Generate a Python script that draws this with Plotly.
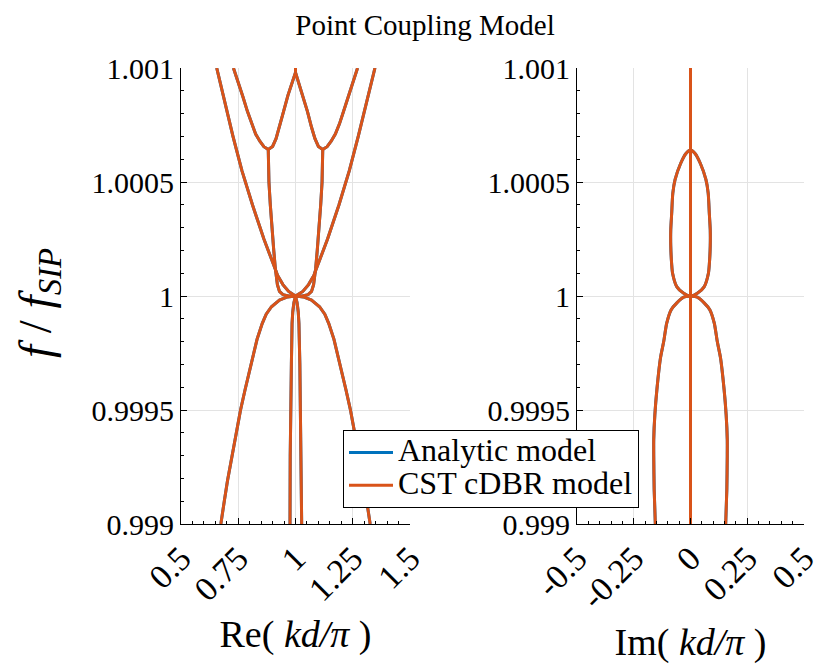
import plotly.graph_objects as go

# ---------------- data ----------------
# Re(kd/pi) branches, each as (x list, y list) with y = f/f_SIP
re_outer_left_x = [0.656, 0.690, 0.727, 0.766, 0.812, 0.862, 0.898, 0.922, 0.945, 0.970, 1.0]
re_outer_left_y = [1.001, 1.00085, 1.0007, 1.00055, 1.0004, 1.00025, 1.00015, 1.00009, 1.00005, 1.00002, 1.0]
re_outer_right_x = [1.347, 1.312, 1.274, 1.235, 1.190, 1.140, 1.102, 1.080, 1.057, 1.032, 1.0]
re_outer_right_y = [1.001, 1.00085, 1.0007, 1.00055, 1.0004, 1.00025, 1.00015, 1.00009, 1.00005, 1.00002, 1.0]

re_arc_left_x = [0.729, 0.750, 0.770, 0.790, 0.808, 0.826, 0.845, 0.862, 0.881, 0.900, 0.915, 0.930, 0.948, 0.967, 0.984, 1.0]
re_arc_left_y = [1.001, 1.00094, 1.000875, 1.00081, 1.000755, 1.00071, 1.000678, 1.000655, 1.000643,
                 1.000656, 1.00069, 1.00074, 1.00081, 1.00088, 1.00093, 1.00098]
re_arc_right_x = [1.0, 1.016, 1.033, 1.052, 1.070, 1.085, 1.100, 1.119, 1.138, 1.155, 1.174, 1.192, 1.210, 1.230, 1.250, 1.271]
re_arc_right_y = [1.00098, 1.00093, 1.00088, 1.00081, 1.00074, 1.00069, 1.000656, 1.000643, 1.000655,
                  1.000678, 1.00071, 1.000755, 1.00081, 1.000875, 1.00094, 1.001]
re_center_x = [1.0, 1.0]
re_center_y = [1.00098, 1.001]

re_inner_left_x = [0.881, 0.882, 0.884, 0.890, 0.896, 0.905, 0.912, 0.916, 0.921, 0.930, 0.945, 0.970, 1.0]
re_inner_left_y = [1.000643, 1.0006, 1.0005, 1.0004, 1.00031, 1.0002, 1.00012, 1.00008, 1.00005, 1.00002,
                   1.000006, 1.0000005, 1.0]
re_inner_right_x = [1.119, 1.118, 1.116, 1.110, 1.104, 1.095, 1.088, 1.084, 1.079, 1.070, 1.055, 1.030, 1.0]
re_inner_right_y = [1.000643, 1.0006, 1.0005, 1.0004, 1.00031, 1.0002, 1.00012, 1.00008, 1.00005, 1.00002,
                    1.000006, 1.0000005, 1.0]

re_dome_left_x = [1.0, 0.965, 0.930, 0.895, 0.872, 0.855, 0.832, 0.812, 0.795, 0.780, 0.760, 0.745, 0.730,
                  0.716, 0.703, 0.689, 0.674]
re_dome_right_x = [1.0, 1.035, 1.070, 1.105, 1.128, 1.145, 1.168, 1.188, 1.205, 1.220, 1.240, 1.255, 1.270,
                   1.284, 1.297, 1.311, 1.326]
re_dome_y = [1.0, 0.999996, 0.999982, 0.999953, 0.99992, 0.99988, 0.99981, 0.99973, 0.99966, 0.99959, 0.9995,
             0.99942, 0.99934, 0.99926, 0.99919, 0.9991, 0.999]

re_low_left_x = [1.0, 0.993, 0.988, 0.985, 0.982, 0.979, 0.977, 0.976]
re_low_right_x = [1.0, 1.007, 1.012, 1.015, 1.019, 1.022, 1.025, 1.027]
re_low_y = [1.0, 0.99997, 0.99993, 0.99988, 0.9997, 0.9995, 0.9993, 0.999]

# Im(kd/pi) branches
im_center_x = [0.0, 0.0]
im_center_y = [0.999, 1.001]

im_loop_x = [0.0, 0.020, 0.044, 0.068, 0.078, 0.083, 0.087, 0.087, 0.083, 0.079, 0.060, 0.030, 0.0,
             -0.030, -0.060, -0.079, -0.083, -0.087, -0.087, -0.083, -0.078, -0.068, -0.044, -0.020, 0.0]
im_loop_y = [1.00064, 1.000625, 1.00058, 1.00051, 1.00045, 1.00036, 1.00029, 1.00022, 1.00014, 1.0001,
             1.00004, 1.000012, 1.0,
             1.000012, 1.00004, 1.0001, 1.00014, 1.00022, 1.00029, 1.00036, 1.00045, 1.00051, 1.00058,
             1.000625, 1.00064]

im_dome_right_x = [0.0, 0.030, 0.060, 0.085, 0.105, 0.118, 0.132, 0.148, 0.157, 0.162, 0.162, 0.160, 0.155]
im_dome_left_x = [-v for v in im_dome_right_x]
im_dome_y = [1.0, 0.999995, 0.99997, 0.99994, 0.99988, 0.9998, 0.99973, 0.99959, 0.99948, 0.99937, 0.9993,
             0.99915, 0.999]

# axis ticks
y_tickvals = [0.999, 0.9995, 1.0, 1.0005, 1.001]
y_ticktext = ["0.999", "0.9995", "1", "1.0005", "1.001"]
re_tickvals = [0.5, 0.75, 1.0, 1.25, 1.5]
re_ticktext = ["0.5", "0.75", "1", "1.25", "1.5"]
im_tickvals = [-0.5, -0.25, 0.0, 0.25, 0.5]
im_ticktext = ["-0.5", "-0.25", "0", "0.25", "0.5"]

series_names = ["Analytic model", "CST cDBR model"]
series_colors = ["#0072BD", "#D95319"]

re_curves = [
    (re_outer_left_x, re_outer_left_y), (re_outer_right_x, re_outer_right_y),
    (re_arc_left_x, re_arc_left_y), (re_arc_right_x, re_arc_right_y),
    (re_center_x, re_center_y),
    (re_inner_left_x, re_inner_left_y), (re_inner_right_x, re_inner_right_y),
    (re_dome_left_x, re_dome_y), (re_dome_right_x, re_dome_y),
    (re_low_left_x, re_low_y), (re_low_right_x, re_low_y),
]
im_curves = [
    (im_center_x, im_center_y), (im_loop_x, im_loop_y),
    (im_dome_left_x, im_dome_y), (im_dome_right_x, im_dome_y),
]

legend_text_px = 32

# ---------------- figure ----------------
fig = go.Figure()
for name, color in zip(series_names, series_colors):
    first = True
    label = f"<span style='font-size:{legend_text_px}px'>{name}</span>"
    for cx, cy in re_curves:
        fig.add_trace(go.Scatter(x=cx, y=cy, mode="lines",
                                 line=dict(color=color, width=3),
                                 name=label, legendgroup=name, showlegend=first,
                                 xaxis="x", yaxis="y"))
        first = False
    for cx, cy in im_curves:
        fig.add_trace(go.Scatter(x=cx, y=cy, mode="lines",
                                 line=dict(color=color, width=3, shape="spline", smoothing=0.6),
                                 name=label, legendgroup=name, showlegend=False,
                                 xaxis="x2", yaxis="y2"))

# page pixel geometry (browser body has an 8px margin)
OFF = 8
W, H = 824 - OFF, 665 - OFF
L, R, T, B = 181 - OFF, 804 - OFF, 68 - OFF, 524 - OFF   # plot-area edges
PW, PH = R - L, B - T
font_family = "Liberation Serif, Times New Roman, serif"
grid_col = "#e3e3e3"
ytick_size = 30
xtick_size = 34


def px_x(p):
    return (p - OFF - L) / PW


def px_y(p):
    return (B - (p - OFF)) / PH


def xax(domain, rng, tv, tt, title, anchor):
    return dict(domain=domain, range=rng, anchor=anchor, automargin=False, tickmode="array",
                tickvals=tv, ticktext=tt, tickangle=-45, ticks="inside", ticklen=6, tickcolor="black",
                showline=True, linecolor="black", linewidth=1, showgrid=True, gridcolor=grid_col,
                gridwidth=1, zeroline=False,
                tickfont=dict(size=xtick_size, color="black", family=font_family),
                minor=dict(ticks="inside", ticklen=3, tickcolor="black", tickmode="linear",
                           tick0=rng[0], dtick=0.05, showgrid=False),
                title=dict(text=title, font=dict(size=38, color="black", family=font_family), standoff=13))


def yax(anchor):
    return dict(domain=[0, 1], range=[0.999, 1.001], anchor=anchor, automargin=False, tickmode="array",
                tickvals=y_tickvals, ticktext=y_ticktext, ticks="inside", ticklen=6, tickcolor="black",
                showline=True, linecolor="black", linewidth=1, showgrid=True, gridcolor=grid_col,
                zeroline=False, tickfont=dict(size=ytick_size, color="black", family=font_family),
                minor=dict(ticks="inside", ticklen=3, tickcolor="black", tickmode="linear",
                           tick0=0.999, dtick=0.0001, showgrid=False))


fig.update_layout(
    width=W, height=H,
    margin=dict(l=L, r=W - R, t=T, b=H - B, autoexpand=False),
    paper_bgcolor="white", plot_bgcolor="white",
    font=dict(family=font_family, color="black"),
    title=dict(text="Point Coupling Model", x=(425 - OFF) / W, xanchor="center",
               y=1 - (25 - OFF) / H, yanchor="middle",
               font=dict(size=29, color="black", family=font_family)),
    xaxis=xax([0, px_x(410)], [0.5, 1.5], re_tickvals, re_ticktext, "Re( <i>kd/π</i> )", "y"),
    xaxis2=xax([px_x(577), 1], [-0.5, 0.5], im_tickvals, im_ticktext, "Im( <i>kd/π</i> )", "y2"),
    yaxis=yax("x"),
    yaxis2=yax("x2"),
    legend=dict(x=px_x(343), y=px_y(430), xanchor="left", yanchor="top", bgcolor="white",
                bordercolor="black", borderwidth=1, font=dict(size=23, color="black", family=font_family),
                tracegroupgap=0, itemwidth=44),
    showlegend=True,
    annotations=[dict(text="<i>f</i> / <i>f</i><sub><i>SIP</i></sub>", x=px_x(38), y=px_y(303),
                      xref="paper", yref="paper", xanchor="center", yanchor="middle",
                      showarrow=False, textangle=-90,
                      font=dict(size=47, color="black", family=font_family))],
)

fig.write_html("out.html")
